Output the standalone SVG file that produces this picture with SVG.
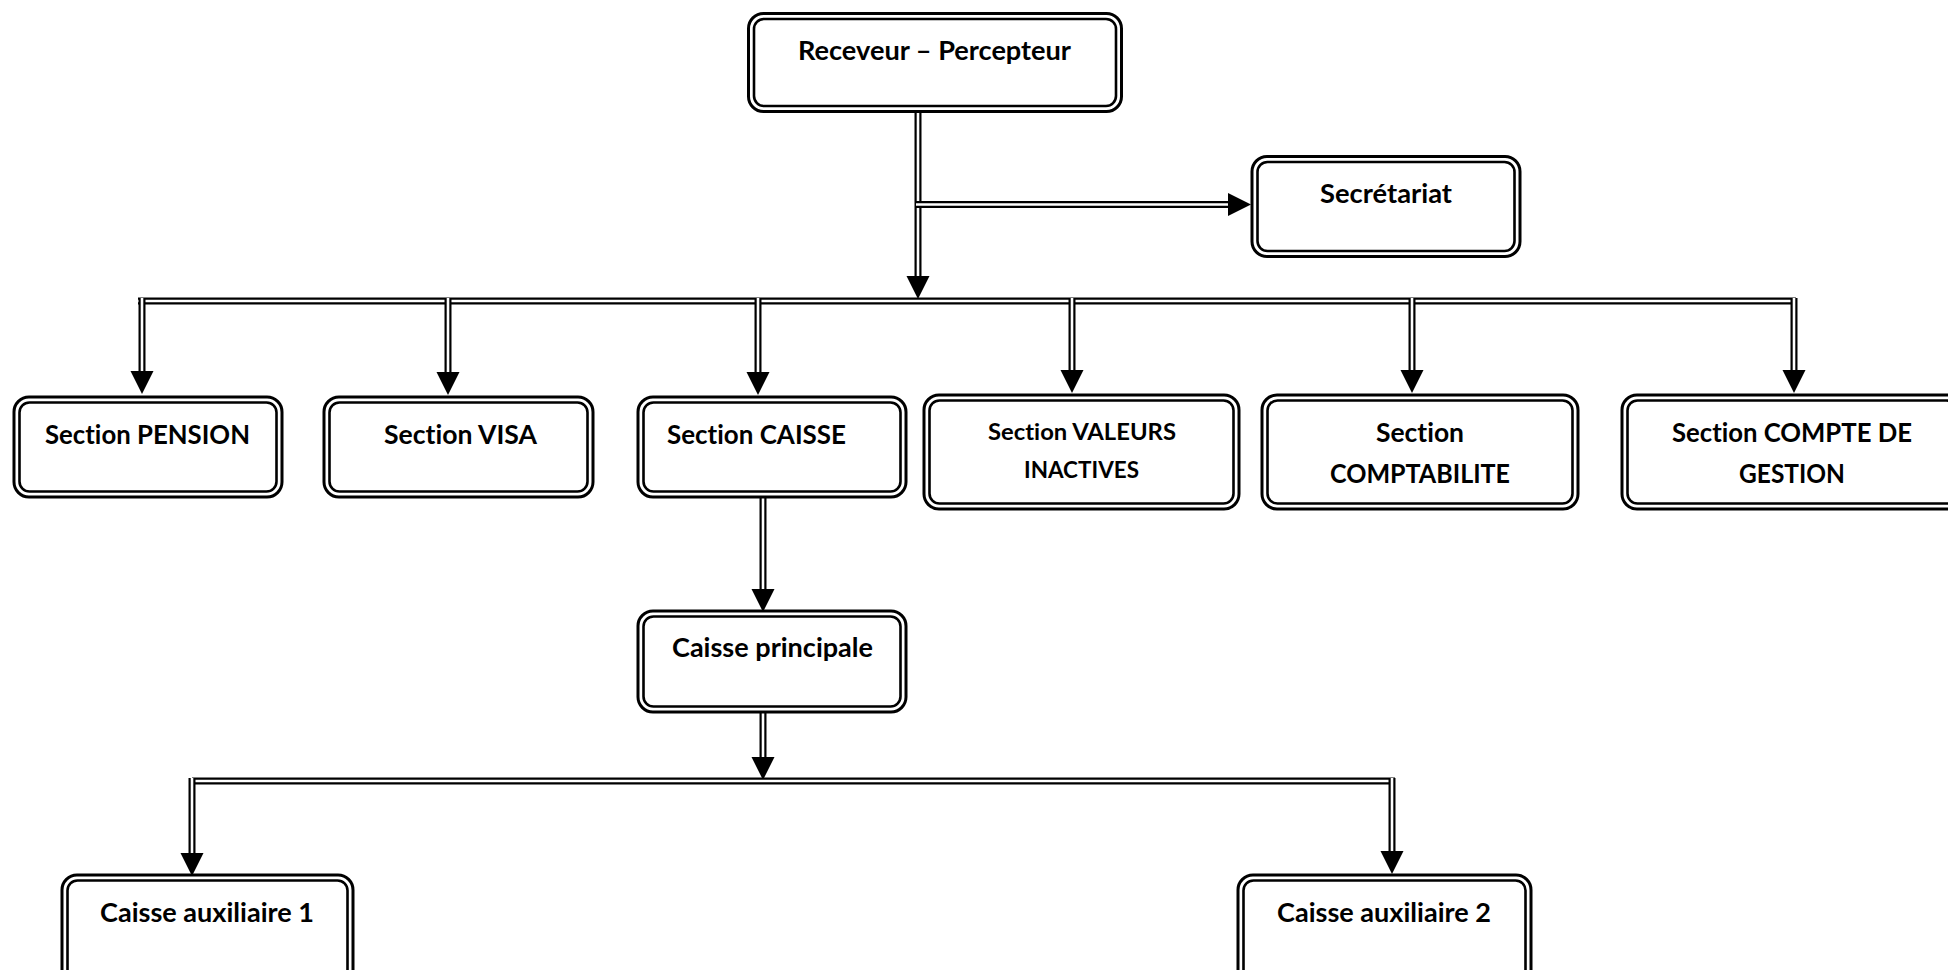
<svg xmlns="http://www.w3.org/2000/svg" xmlns:xlink="http://www.w3.org/1999/xlink" width="1948" height="970" viewBox="0 0 1948 970">
<style>
.o{fill:#fff;stroke:#000;stroke-width:3}
.i{fill:none;stroke:#000;stroke-width:2.6}
.t{font-family:Lato,"Liberation Sans",sans-serif;font-weight:700;font-size:26px;fill:#000;font-variant-ligatures:none}
.s{font-size:23.5px}
.co{fill:none;stroke:#000;stroke-width:7;stroke-linecap:butt}
.ci{fill:none;stroke:#fff;stroke-width:2.6;stroke-linecap:butt}
.ah{fill:#000;stroke:none}
</style>
<defs>
<path id="ah" class="ah" d="M-11.5,-23 L11.5,-23 L0,0 Z"/>
</defs>
<rect width="1948" height="970" fill="#fff"/>

<g id="connectors">
<path class="co" d="M918,112 V278"/><path class="ci" d="M918,112 V278"/>
<use href="#ah" x="918" y="299"/>
<path class="co" d="M916,204.5 H1229"/><path class="ci" d="M916,204.5 H1229"/>
<use href="#ah" transform="translate(1251,204.5) rotate(-90)"/>
<path class="co" d="M138,301 H1796"/><path class="ci" d="M138,301 H1796"/>
<path class="co" d="M142,298 V372"/><path class="ci" d="M142,298 V372"/>
<use href="#ah" x="142" y="394"/>
<path class="co" d="M448,298 V372"/><path class="ci" d="M448,298 V372"/>
<use href="#ah" x="448" y="395"/>
<path class="co" d="M758,298 V372"/><path class="ci" d="M758,298 V372"/>
<use href="#ah" x="758" y="395"/>
<path class="co" d="M1072,298 V371"/><path class="ci" d="M1072,298 V371"/>
<use href="#ah" x="1072" y="393"/>
<path class="co" d="M1412,298 V371"/><path class="ci" d="M1412,298 V371"/>
<use href="#ah" x="1412" y="393"/>
<path class="co" d="M1794,298 V371"/><path class="ci" d="M1794,298 V371"/>
<use href="#ah" x="1794" y="393"/>
<path class="co" d="M763,498 V591"/><path class="ci" d="M763,498 V591"/>
<use href="#ah" x="763" y="612"/>
<path class="co" d="M763,713 V758"/><path class="ci" d="M763,713 V758"/>
<use href="#ah" x="763" y="780"/>
<path class="co" d="M192,781 H1395"/><path class="ci" d="M192,781 H1395"/>
<path class="co" d="M192,778 V854"/><path class="ci" d="M192,778 V854"/>
<use href="#ah" x="192" y="876"/>
<path class="co" d="M1392,778 V852"/><path class="ci" d="M1392,778 V852"/>
<use href="#ah" x="1392" y="874"/>
</g>

<g id="receveur">
<rect class="o" x="748.5" y="13.5" width="373" height="98" rx="15"/>
<rect class="i" x="754" y="19" width="362" height="87" rx="10"/>
<text class="t" x="798" y="60" textLength="273" lengthAdjust="spacingAndGlyphs">Receveur – Percepteur</text>
</g>

<g id="secretariat">
<rect class="o" x="1252" y="156.5" width="268" height="100" rx="15"/>
<rect class="i" x="1257.5" y="162" width="257" height="89" rx="10"/>
<text class="t" x="1320" y="203" textLength="132" lengthAdjust="spacingAndGlyphs">Secrétariat</text>
</g>

<g id="section-pension">
<rect class="o" x="14" y="397" width="268" height="100" rx="15"/>
<rect class="i" x="19.5" y="402.5" width="257" height="89" rx="10"/>
<text class="t" x="45" y="444" textLength="205" lengthAdjust="spacingAndGlyphs">Section PENSION</text>
</g>

<g id="section-visa">
<rect class="o" x="324" y="397" width="269" height="100" rx="15"/>
<rect class="i" x="329.5" y="402.5" width="258" height="89" rx="10"/>
<text class="t" x="384" y="444" textLength="153" lengthAdjust="spacingAndGlyphs">Section VISA</text>
</g>

<g id="section-caisse">
<rect class="o" x="638" y="397" width="268" height="100" rx="15"/>
<rect class="i" x="643.5" y="402.5" width="257" height="89" rx="10"/>
<text class="t" x="667" y="444" textLength="179" lengthAdjust="spacingAndGlyphs">Section CAISSE</text>
</g>

<g id="section-valeurs">
<rect class="o" x="924" y="395" width="315" height="114" rx="15"/>
<rect class="i" x="929.5" y="400.5" width="304" height="103" rx="10"/>
<text class="t s" x="988" y="440" textLength="188" lengthAdjust="spacingAndGlyphs">Section VALEURS</text>
<text class="t s" x="1024" y="478" textLength="115" lengthAdjust="spacingAndGlyphs">INACTIVES</text>
</g>

<g id="section-comptabilite">
<rect class="o" x="1262" y="395" width="316" height="114" rx="15"/>
<rect class="i" x="1267.5" y="400.5" width="305" height="103" rx="10"/>
<text class="t" x="1376" y="442" textLength="88" lengthAdjust="spacingAndGlyphs">Section</text>
<text class="t" x="1330" y="483" textLength="180" lengthAdjust="spacingAndGlyphs">COMPTABILITE</text>
</g>

<g id="section-compte-gestion">
<rect class="o" x="1622" y="395" width="340" height="114" rx="15"/>
<rect class="i" x="1627.5" y="400.5" width="329" height="103" rx="10"/>
<text class="t" x="1672" y="442" textLength="240" lengthAdjust="spacingAndGlyphs">Section COMPTE DE</text>
<text class="t" x="1739" y="483" textLength="106" lengthAdjust="spacingAndGlyphs">GESTION</text>
</g>

<g id="caisse-principale">
<rect class="o" x="638" y="611" width="268" height="101" rx="15"/>
<rect class="i" x="643.5" y="616.5" width="257" height="90" rx="10"/>
<text class="t" x="672" y="657" textLength="201" lengthAdjust="spacingAndGlyphs">Caisse principale</text>
</g>

<g id="caisse-auxiliaire-1">
<rect class="o" x="62" y="875" width="291" height="110" rx="15"/>
<rect class="i" x="67.5" y="880.5" width="280" height="99" rx="10"/>
<text class="t" x="100" y="922" textLength="214" lengthAdjust="spacingAndGlyphs">Caisse auxiliaire 1</text>
</g>

<g id="caisse-auxiliaire-2">
<rect class="o" x="1238" y="875" width="293" height="110" rx="15"/>
<rect class="i" x="1243.5" y="880.5" width="282" height="99" rx="10"/>
<text class="t" x="1277" y="922" textLength="214" lengthAdjust="spacingAndGlyphs">Caisse auxiliaire 2</text>
</g>
</svg>
